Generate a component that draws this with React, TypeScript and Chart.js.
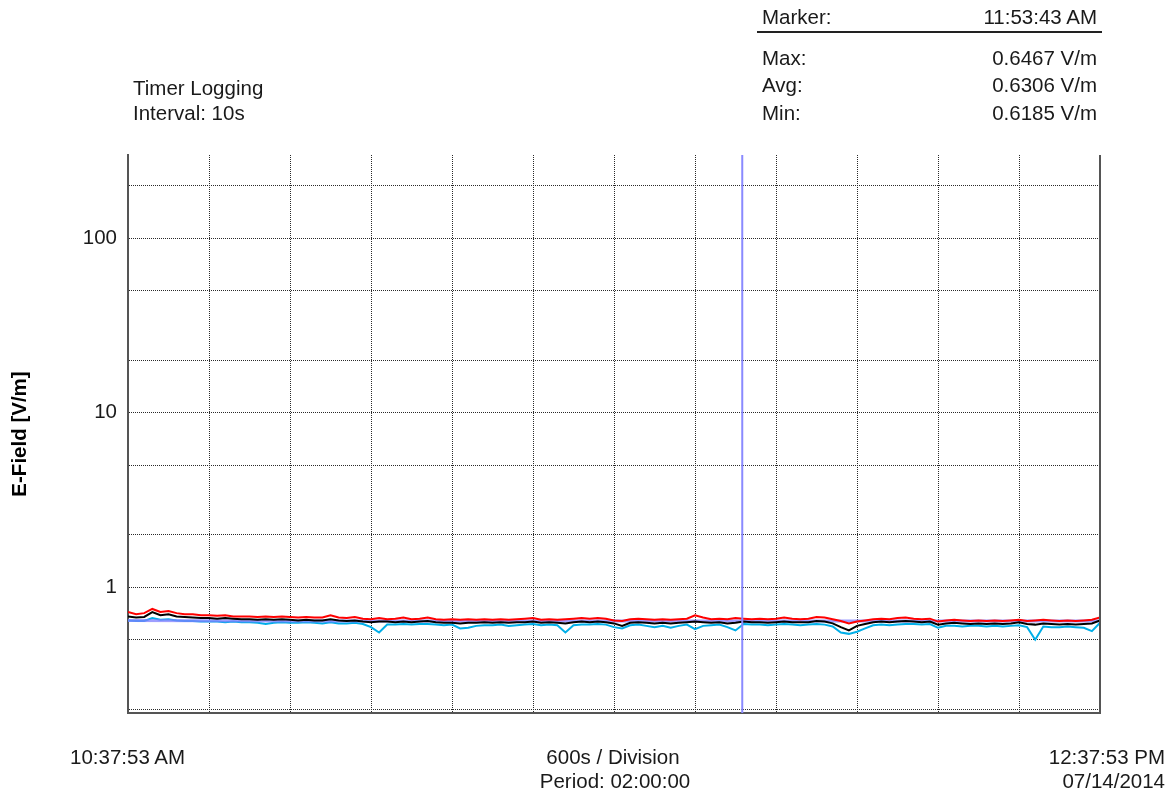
import React, { useEffect, useRef } from "react";
import { Chart, registerables } from "chart.js";

Chart.register(...registerables);

// ---- data ----
const SAMPLE_INTERVAL_S = 60; // one plotted sample per minute
const PERIOD_S = 7200;
const DIVISION_S = 600;

const maxSeries = [
  0.72, 0.70, 0.71, 0.75, 0.72, 0.73, 0.71, 0.70, 0.70, 0.69,
  0.69, 0.685, 0.69, 0.68, 0.68, 0.68, 0.675, 0.68, 0.675, 0.68,
  0.675, 0.67, 0.675, 0.67, 0.67, 0.69, 0.67, 0.665, 0.675, 0.66,
  0.655, 0.665, 0.655, 0.66, 0.67, 0.655, 0.66, 0.67, 0.655, 0.65,
  0.655, 0.65, 0.655, 0.65, 0.655, 0.65, 0.655, 0.65, 0.655, 0.66,
  0.665, 0.65, 0.655, 0.65, 0.655, 0.66, 0.665, 0.66, 0.665, 0.66,
  0.645, 0.64, 0.655, 0.66, 0.655, 0.65, 0.655, 0.65, 0.655, 0.66,
  0.69, 0.67, 0.655, 0.66, 0.655, 0.665, 0.66, 0.655, 0.66, 0.655,
  0.66, 0.67, 0.66, 0.655, 0.66, 0.675, 0.67, 0.655, 0.64, 0.62,
  0.635, 0.645, 0.655, 0.66, 0.655, 0.665, 0.67, 0.66, 0.655, 0.66,
  0.635, 0.645, 0.65, 0.645, 0.64, 0.645, 0.64, 0.645, 0.64, 0.645,
  0.65, 0.64, 0.645, 0.65, 0.645, 0.64, 0.645, 0.64, 0.645, 0.65,
  0.67,
];

const avgSeries = [
  0.68, 0.67, 0.675, 0.72, 0.69, 0.70, 0.68, 0.675, 0.67, 0.665,
  0.665, 0.66, 0.665, 0.66, 0.655, 0.655, 0.65, 0.655, 0.65, 0.655,
  0.65, 0.645, 0.65, 0.645, 0.645, 0.655, 0.645, 0.64, 0.645, 0.635,
  0.63, 0.635, 0.635, 0.63, 0.635, 0.63, 0.635, 0.64, 0.63, 0.625,
  0.625, 0.62, 0.625, 0.625, 0.63, 0.625, 0.63, 0.625, 0.63, 0.63,
  0.635, 0.625, 0.63, 0.625, 0.62, 0.63, 0.635, 0.63, 0.635, 0.63,
  0.62, 0.60, 0.625, 0.63, 0.625, 0.62, 0.625, 0.62, 0.625, 0.63,
  0.635, 0.63, 0.625, 0.63, 0.62, 0.625, 0.635, 0.63, 0.63, 0.625,
  0.63, 0.635, 0.63, 0.63, 0.63, 0.64, 0.635, 0.62, 0.59, 0.565,
  0.60, 0.615, 0.63, 0.635, 0.63, 0.635, 0.64, 0.635, 0.63, 0.635,
  0.61, 0.62, 0.625, 0.62, 0.615, 0.62, 0.615, 0.62, 0.615, 0.62,
  0.63, 0.615, 0.61, 0.62, 0.615, 0.61, 0.615, 0.61, 0.615, 0.62,
  0.645,
];

const minSeries = [
  0.645, 0.64, 0.64, 0.665, 0.65, 0.655, 0.645, 0.64, 0.64, 0.635,
  0.635, 0.635, 0.63, 0.635, 0.63, 0.63, 0.625, 0.615, 0.625, 0.63,
  0.625, 0.625, 0.63, 0.625, 0.62, 0.63, 0.62, 0.62, 0.625, 0.615,
  0.59, 0.55, 0.61, 0.61, 0.615, 0.61, 0.615, 0.615, 0.61, 0.605,
  0.61, 0.58, 0.585, 0.60, 0.605, 0.605, 0.61, 0.60, 0.605, 0.61,
  0.615, 0.605, 0.61, 0.605, 0.55, 0.605, 0.61, 0.61, 0.615, 0.61,
  0.59, 0.58, 0.605, 0.61, 0.60, 0.59, 0.60, 0.585, 0.60, 0.61,
  0.575, 0.60, 0.605, 0.61, 0.59, 0.565, 0.615, 0.61, 0.61, 0.605,
  0.61, 0.615, 0.61, 0.605, 0.61, 0.615, 0.61, 0.595, 0.55, 0.54,
  0.555, 0.58, 0.605, 0.61, 0.605, 0.61, 0.615, 0.615, 0.61, 0.615,
  0.585, 0.60, 0.60, 0.595, 0.60, 0.60, 0.595, 0.60, 0.595, 0.60,
  0.605, 0.59, 0.50, 0.595, 0.59, 0.59, 0.595, 0.59, 0.585, 0.56,
  0.625,
];

const REF_INTERVAL_S = 600;
const refSeries = [0.645, 0.642, 0.64, 0.64, 0.64, 0.64, 0.64, 0.64, 0.64, 0.64, 0.64, 0.64, 0.64];

const MARKER_S = 4550; // 11:53:43 AM
const Y_MIN = 0.19;
const Y_MAX = 300;
const yGridValues = [0.2, 0.5, 1, 2, 5, 10, 20, 50, 100, 200];
const yLabelValues = [1, 10, 100];

const FONT = "'Liberation Sans', Arial, sans-serif";
const TEXT_COLOR = "#1a1a1a";
const FS = 20.5;

const toPoints = (arr: number[], step: number) => arr.map((v, i) => ({ x: i * step, y: v }));

type TProps = { text: string; cy: number; left?: number; right?: number; center?: number };
const Label = ({ text, cy, left, right, center }: TProps) => {
  const style: React.CSSProperties = {
    position: "absolute",
    top: cy - 12,
    height: 24,
    lineHeight: "24px",
    fontSize: FS,
    whiteSpace: "nowrap",
    color: TEXT_COLOR,
  };
  if (left !== undefined) style.left = left;
  if (right !== undefined) style.right = 1173 - right;
  if (center !== undefined) {
    style.left = center;
    style.transform = "translateX(-50%)";
  }
  return <div style={style}>{text}</div>;
};

export default function App() {
  const ref = useRef<HTMLCanvasElement | null>(null);

  useEffect(() => {
    if (!ref.current) return;
    const frame = {
      id: "frame",
      afterDraw(chart: any) {
        const { ctx, chartArea } = chart;
        ctx.save();
        ctx.strokeStyle = "#555";
        ctx.lineWidth = 2;
        ctx.beginPath();
        ctx.moveTo(chartArea.right, chartArea.top);
        ctx.lineTo(chartArea.right, chartArea.bottom + 1);
        ctx.stroke();
        ctx.restore();
      },
    };
    const chart = new Chart(ref.current, {
      type: "line",
      data: {
        datasets: [
          {
            label: "Marker",
            data: [
              { x: MARKER_S, y: Y_MIN },
              { x: MARKER_S, y: Y_MAX },
            ],
            borderColor: "#8a8aff",
            borderWidth: 2,
            pointRadius: 0,
          },
          {
            label: "Max",
            data: toPoints(maxSeries, SAMPLE_INTERVAL_S),
            borderColor: "#ff0000",
            borderWidth: 2,
            pointRadius: 0,
          },
          {
            label: "Avg",
            data: toPoints(avgSeries, SAMPLE_INTERVAL_S),
            borderColor: "#000000",
            borderWidth: 2,
            pointRadius: 0,
          },
          {
            label: "Reference",
            data: toPoints(refSeries, REF_INTERVAL_S),
            borderColor: "rgba(125,125,255,0.75)",
            borderWidth: 3,
            pointRadius: 0,
          },
          {
            label: "Min",
            data: toPoints(minSeries, SAMPLE_INTERVAL_S),
            borderColor: "#00aee8",
            borderWidth: 2,
            pointRadius: 0,
          },
        ],
      },
      options: {
        animation: false,
        responsive: false,
        events: [],
        layout: { padding: { top: 155, right: 73, bottom: 85, left: 0 } },
        plugins: { legend: { display: false }, tooltip: { enabled: false } },
        scales: {
          x: {
            type: "linear",
            min: 0,
            max: PERIOD_S,
            ticks: { display: false, stepSize: DIVISION_S },
            grid: { color: "#2a2a2a", lineWidth: 1, drawTicks: false },
            border: { display: true, color: "#555", width: 2, dash: [1, 1] },
            afterFit: (axis: any) => {
              axis.height = 0;
            },
          },
          y: {
            type: "logarithmic",
            min: Y_MIN,
            max: Y_MAX,
            afterBuildTicks: (axis: any) => {
              axis.ticks = yGridValues.map((v) => ({ value: v }));
            },
            afterFit: (axis: any) => {
              axis.width = 128;
            },
            ticks: {
              autoSkip: false,
              padding: 11,
              color: TEXT_COLOR,
              font: { family: FONT, size: FS },
              callback: (v: any) => (yLabelValues.includes(Number(v)) ? String(v) : ""),
            },
            grid: { color: "#2a2a2a", lineWidth: 1, drawTicks: false },
            border: { display: true, color: "#555", width: 2, dash: [1, 1] },
            title: {
              display: true,
              text: "E-Field [V/m]",
              color: "#000",
              font: { family: FONT, size: 20.5, weight: "bold" },
              padding: { top: 8, bottom: 0 },
            },
          },
        },
      },
      plugins: [frame],
    } as any);
    return () => chart.destroy();
  }, []);

  return (
    <div
      style={{
        position: "fixed",
        left: 0,
        top: 0,
        width: 1173,
        height: 798,
        background: "#fff",
        fontFamily: FONT,
      }}
    >
      <canvas ref={ref} width={1173} height={798} style={{ position: "absolute", left: 0, top: 0 }} />
      <Label text="Timer Logging" left={133} cy={88} />
      <Label text="Interval: 10s" left={133} cy={113} />
      <Label text="Marker:" left={762} cy={17} />
      <Label text="11:53:43 AM" right={1097} cy={17} />
      <div style={{ position: "absolute", left: 757, top: 31, width: 345, height: 2, background: "#222" }} />
      <Label text="Max:" left={762} cy={58} />
      <Label text="0.6467 V/m" right={1097} cy={58} />
      <Label text="Avg:" left={762} cy={85} />
      <Label text="0.6306 V/m" right={1097} cy={85} />
      <Label text="Min:" left={762} cy={113} />
      <Label text="0.6185 V/m" right={1097} cy={113} />
      <Label text="10:37:53 AM" left={70} cy={757} />
      <Label text="600s / Division" center={613} cy={757} />
      <Label text="Period: 02:00:00" center={615} cy={781} />
      <Label text="12:37:53 PM" right={1165} cy={757} />
      <Label text="07/14/2014" right={1165} cy={781} />
    </div>
  );
}
